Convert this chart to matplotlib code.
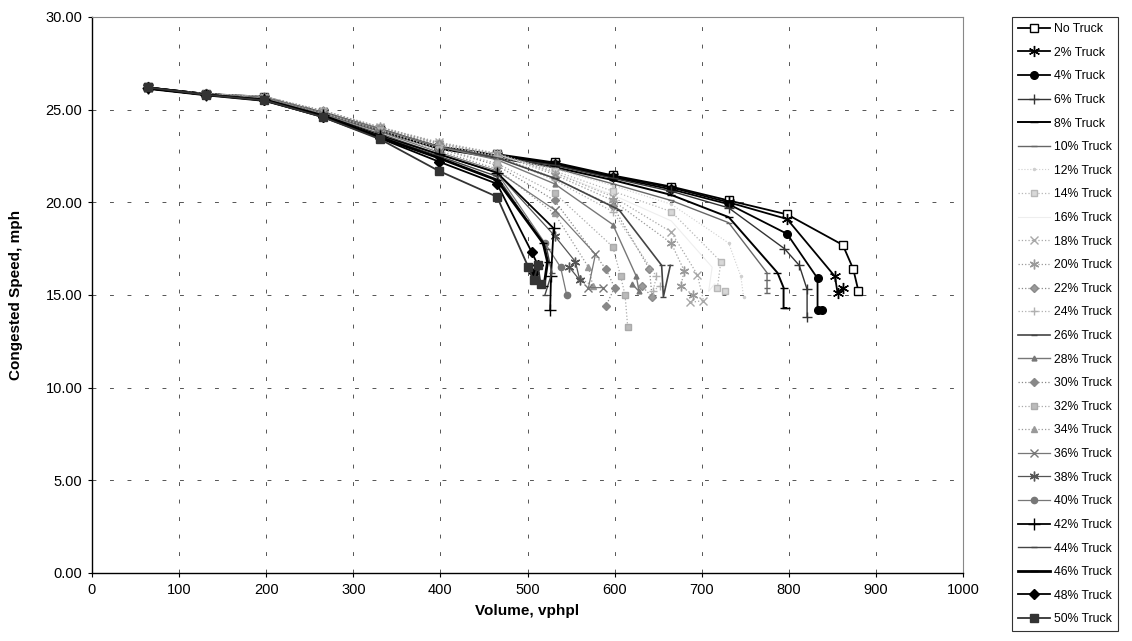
import matplotlib
matplotlib.use("Agg")
import matplotlib.pyplot as plt

plt.rcParams['font.family'] = ['Liberation Sans', 'DejaVu Sans']

# demand steps (vphpl) shared by the upper limb of all curves
D = [64, 131, 198, 265, 331, 398, 465, 531, 598, 665, 731, 798]

labels = ["No Truck", "2% Truck", "4% Truck", "6% Truck", "8% Truck", "10% Truck",
          "12% Truck", "14% Truck", "16% Truck", "18% Truck", "20% Truck", "22% Truck",
          "24% Truck", "26% Truck", "28% Truck", "30% Truck", "32% Truck", "34% Truck",
          "36% Truck", "38% Truck", "40% Truck", "42% Truck", "44% Truck", "46% Truck",
          "48% Truck", "50% Truck"]

# volumes (vphpl) for each series
vol_0 = D + [862, 874, 880]
vol_2 = D + [853, 856, 862]
vol_4 = D + [833, 833, 838]
vol_6 = D[:11] + [795, 812, 821, 821]
vol_8 = D[:11] + [787, 794, 794, 797]
vol_10 = D[:11] + [775, 775, 775, 775]
vol_12 = D[:11] + [745, 748]
vol_14 = D[:10] + [722, 718, 727]
vol_16 = D[:10] + [712, 708, 715]
vol_18 = D[:10] + [695, 702, 687]
vol_20 = D[:10] + [680, 676, 690]
vol_22 = D[:9] + [640, 643, 631]
vol_24 = D[:9] + [648, 644, 652]
vol_26 = D[:8] + [605, 654, 656, 664]
vol_28 = D[:9] + [625, 628, 620]
vol_30 = D[:8] + [590, 600, 590]
vol_32 = D[:9] + [607, 612, 615]
vol_34 = D[:8] + [570, 575, 560]
vol_36 = D[:8] + [578, 570, 587]
vol_38 = D[:8] + [555, 560, 548]
vol_40 = D[:7] + [520, 538, 545]
vol_42 = D[:7] + [530, 527, 526]
vol_44 = D[:7] + [522, 528, 520]
vol_46 = D[:7] + [518, 523, 519]
vol_48 = D[:7] + [505, 512, 508]
vol_50 = D[:7] + [501, 507, 512, 515]

# congested speeds (mph) for each series
spd_0 = [26.2, 25.85, 25.7, 24.85, 23.95, 23.0, 22.6, 22.15, 21.45, 20.85, 20.1, 19.35, 17.7, 16.4, 15.2]
spd_2 = [26.2, 25.85, 25.65, 24.85, 23.9, 23.0, 22.55, 22.1, 21.4, 20.8, 20.0, 19.1, 16.0, 15.1, 15.4]
spd_4 = [26.2, 25.85, 25.65, 24.8, 23.9, 22.95, 22.5, 22.05, 21.35, 20.7, 19.9, 18.3, 15.9, 14.2, 14.2]
spd_6 = [26.2, 25.85, 25.6, 24.8, 23.85, 22.9, 22.45, 22.0, 21.3, 20.6, 19.7, 17.5, 16.6, 15.3, 13.8]
spd_8 = [26.2, 25.8, 25.6, 24.8, 23.85, 22.9, 22.4, 21.9, 21.2, 20.4, 19.2, 16.2, 15.4, 14.3, 14.3]
spd_10 = [26.15, 25.8, 25.6, 24.8, 23.9, 23.0, 22.45, 21.85, 21.0, 20.1, 18.9, 16.2, 15.8, 15.4, 15.1]
spd_12 = [26.15, 25.8, 25.65, 24.9, 24.0, 23.1, 22.5, 21.8, 20.9, 19.9, 17.8, 16.0, 14.9]
spd_14 = [26.15, 25.85, 25.7, 24.95, 24.05, 23.2, 22.6, 21.7, 20.6, 19.5, 16.8, 15.4, 15.2]
spd_16 = [26.15, 25.85, 25.7, 24.95, 24.05, 23.2, 22.6, 21.6, 20.4, 19.0, 16.5, 15.2, 15.6]
spd_18 = [26.15, 25.85, 25.7, 24.95, 24.05, 23.25, 22.65, 21.6, 20.3, 18.4, 16.1, 14.7, 14.6]
spd_20 = [26.15, 25.85, 25.7, 24.95, 24.05, 23.2, 22.6, 21.5, 20.1, 17.8, 16.3, 15.5, 15.0]
spd_22 = [26.15, 25.85, 25.7, 24.9, 24.0, 23.15, 22.5, 21.3, 19.8, 16.4, 14.9, 15.5]
spd_24 = [26.15, 25.85, 25.7, 24.9, 24.0, 23.1, 22.5, 21.2, 19.5, 16.0, 15.2, 15.5]
spd_26 = [26.15, 25.8, 25.65, 24.85, 23.95, 23.0, 22.4, 21.3, 19.6, 16.6, 14.9, 16.6]
spd_28 = [26.15, 25.8, 25.65, 24.85, 23.95, 23.0, 22.3, 21.0, 18.8, 16.0, 15.2, 15.6]
spd_30 = [26.15, 25.8, 25.6, 24.8, 23.9, 22.9, 22.0, 20.1, 16.4, 15.4, 14.4]
spd_32 = [26.15, 25.8, 25.6, 24.8, 23.9, 22.9, 22.1, 20.5, 17.6, 16.0, 15.0, 13.3]
spd_34 = [26.15, 25.8, 25.6, 24.75, 23.85, 22.8, 21.8, 19.4, 16.5, 15.5, 15.9]
spd_36 = [26.15, 25.8, 25.6, 24.75, 23.8, 22.7, 21.7, 19.6, 17.2, 15.4, 15.4]
spd_38 = [26.15, 25.8, 25.55, 24.7, 23.7, 22.6, 21.6, 18.2, 16.8, 15.8, 16.5]
spd_40 = [26.15, 25.8, 25.55, 24.7, 23.6, 22.6, 21.6, 17.8, 16.5, 15.0]
spd_42 = [26.15, 25.8, 25.55, 24.7, 23.6, 22.6, 21.6, 18.6, 16.0, 14.2]
spd_44 = [26.15, 25.8, 25.5, 24.65, 23.55, 22.5, 21.4, 17.5, 16.2, 15.0]
spd_46 = [26.15, 25.8, 25.5, 24.65, 23.5, 22.4, 21.2, 17.8, 16.8, 15.5]
spd_48 = [26.15, 25.8, 25.5, 24.6, 23.45, 22.2, 21.0, 17.3, 16.6, 16.2]
spd_50 = [26.2, 25.8, 25.5, 24.6, 23.4, 21.7, 20.3, 16.5, 15.8, 16.6, 15.6]

volumes = [vol_0, vol_2, vol_4, vol_6, vol_8, vol_10, vol_12, vol_14, vol_16, vol_18,
           vol_20, vol_22, vol_24, vol_26, vol_28, vol_30, vol_32, vol_34, vol_36, vol_38,
           vol_40, vol_42, vol_44, vol_46, vol_48, vol_50]
speeds = [spd_0, spd_2, spd_4, spd_6, spd_8, spd_10, spd_12, spd_14, spd_16, spd_18,
          spd_20, spd_22, spd_24, spd_26, spd_28, spd_30, spd_32, spd_34, spd_36, spd_38,
          spd_40, spd_42, spd_44, spd_46, spd_48, spd_50]

AST = (6, 2, 0)
# color, linewidth, linestyle, marker, markersize, marker face
styles = [
    ("black", 1.3, "-", "s", 6, "white"),
    ("black", 1.3, "-", AST, 8, "black"),
    ("black", 1.3, "-", "o", 5.5, "black"),
    ("#333333", 1.0, "-", "+", 7, "#333333"),
    ("black", 1.4, "-", "_", 6, "black"),
    ("#666666", 1.0, "-", "_", 5, "#666666"),
    ("#cfcfcf", 0.8, ":", ".", 3, "#cfcfcf"),
    ("#b8b8b8", 0.9, ":", "s", 4.5, "#d8d8d8"),
    ("#eeeeee", 0.8, "-", "None", 3, "#eeeeee"),
    ("#a8a8a8", 0.9, ":", "x", 6, "#a8a8a8"),
    ("#9a9a9a", 0.9, ":", AST, 7, "#9a9a9a"),
    ("#8a8a8a", 0.9, ":", "D", 4.5, "#9a9a9a"),
    ("#b0b0b0", 0.9, ":", "+", 6, "#b0b0b0"),
    ("#444444", 1.2, "-", "_", 5, "#444444"),
    ("#777777", 1.0, "-", "^", 3.5, "#777777"),
    ("#888888", 0.9, ":", "D", 4.5, "#888888"),
    ("#aaaaaa", 0.9, ":", "s", 5, "#bbbbbb"),
    ("#999999", 0.9, ":", "^", 5, "#999999"),
    ("#777777", 0.9, "-", "x", 6, "#777777"),
    ("#555555", 0.9, "-", AST, 7, "#555555"),
    ("#777777", 0.9, "-", "o", 4.5, "#777777"),
    ("black", 1.3, "-", "+", 8, "black"),
    ("#444444", 1.0, "-", "_", 5, "#444444"),
    ("black", 2.0, "-", "_", 6, "black"),
    ("black", 1.3, "-", "D", 5, "black"),
    ("#333333", 1.3, "-", "s", 5.5, "#333333"),
]

fig = plt.figure(figsize=(11.32, 6.41), dpi=100)
ax = fig.add_axes([92 / 1132, (641 - 573) / 641, 871 / 1132, 556 / 641])

for v, s, lab, st in zip(volumes, speeds, labels, styles):
    c, lw, ls, mk, ms, mfc = st
    ax.plot(v, s, color=c, lw=lw, ls=ls, marker=mk, ms=ms, mfc=mfc, mec=c,
            mew=1.0, label=lab)

ax.set_xlim(0, 1000)
ax.set_ylim(0, 30)
ax.set_xticks(range(0, 1001, 100))
ax.set_yticks([0, 5, 10, 15, 20, 25, 30])
ax.set_yticklabels([f"{t:.2f}" for t in [0, 5, 10, 15, 20, 25, 30]])
ax.tick_params(labelsize=10.5, length=3, direction="out", pad=4)
ax.grid(True, color="#555555", lw=0.7, ls=(0, (4, 14)))
ax.set_xlabel("Volume, vphpl", fontsize=11, fontweight="bold", labelpad=5)
ax.set_ylabel("Congested Speed, mph", fontsize=11, fontweight="bold", labelpad=16)
for side in ["top", "right"]:
    ax.spines[side].set_color("#888888")
    ax.spines[side].set_linewidth(0.8)
for side in ["left", "bottom"]:
    ax.spines[side].set_color("black")
    ax.spines[side].set_linewidth(1.0)

leg = fig.legend(loc="upper left", bbox_to_anchor=(1012 / 1132, 1 - 17 / 641),
                 fontsize=8.8, frameon=True, fancybox=False, edgecolor="black",
                 labelspacing=0.95, handlelength=2.6, handletextpad=0.3,
                 borderpad=0.5, borderaxespad=0)
leg.get_frame().set_linewidth(0.8)

fig.savefig("out.png", dpi=100)
